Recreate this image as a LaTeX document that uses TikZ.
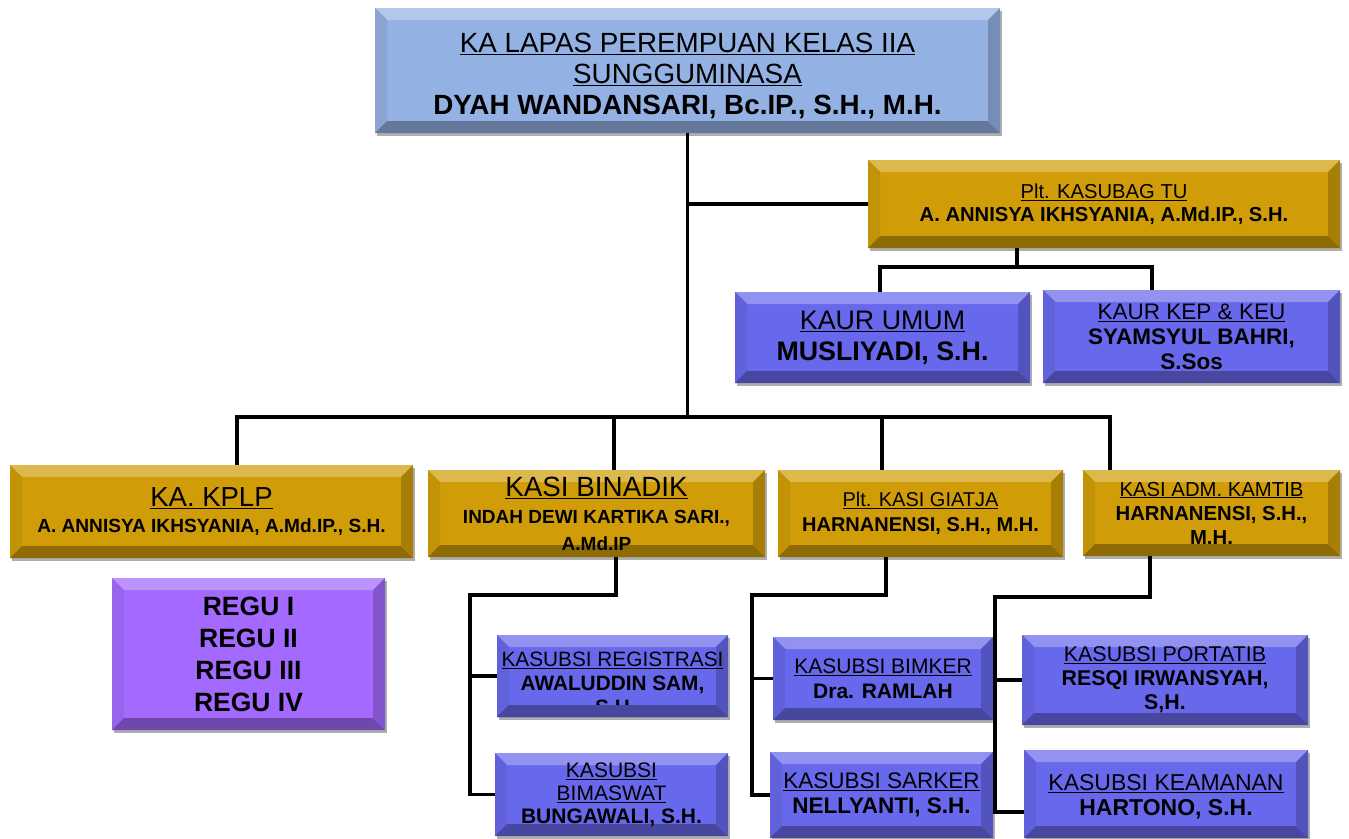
\documentclass[tikz,border=0pt]{standalone}
\usepackage{fontspec}
\setmainfont{Liberation Sans}
\usetikzlibrary{shadows}
\newcommand\fsz[2]{\fontsize{#1}{#2}\selectfont}
\definecolor{blueA}{RGB}{148,177,228}
\definecolor{goldA}{RGB}{208,157,8}
\definecolor{vioA}{RGB}{104,104,236}
\definecolor{purA}{RGB}{164,106,255}
\tikzset{
 box/.style={inner sep=0pt, align=center, fill=#1,
  drop shadow={shadow xshift=2pt,shadow yshift=-3pt,fill=black!70,opacity=.45},
  path picture={
   \fill[#1!72!white] (path picture bounding box.north west) -- (path picture bounding box.north east) -- ([xshift=-12pt,yshift=-12pt]path picture bounding box.north east) -- ([xshift=12pt,yshift=-12pt]path picture bounding box.north west) -- cycle;
   \fill[#1!93!black] (path picture bounding box.north west) -- (path picture bounding box.south west) -- ([xshift=12pt,yshift=12pt]path picture bounding box.south west) -- ([xshift=12pt,yshift=-12pt]path picture bounding box.north west) -- cycle;
   \fill[#1!68!black] (path picture bounding box.south west) -- (path picture bounding box.south east) -- ([xshift=-12pt,yshift=12pt]path picture bounding box.south east) -- ([xshift=12pt,yshift=12pt]path picture bounding box.south west) -- cycle;
   \fill[#1!80!black] (path picture bounding box.north east) -- (path picture bounding box.south east) -- ([xshift=-12pt,yshift=12pt]path picture bounding box.south east) -- ([xshift=-12pt,yshift=-12pt]path picture bounding box.north east) -- cycle;
  }},
 txt/.style={align=center, inner sep=0pt},
 conn/.style={draw=black, line width=3.2pt},
}
\begin{document}
\begin{tikzpicture}[x=1pt,y=-1pt]
\useasboundingbox (0,0) rectangle (1349,838);
\coordinate (bus1) at (237,417);
\coordinate (bus2) at (614,417);
\coordinate (bus3) at (882,417);
\coordinate (bus4) at (1110,417);
\coordinate (ks) at (1017,267);
\coordinate (kl) at (880,267);
\coordinate (kr) at (1152,267);
\coordinate (b1) at (616,595);
\coordinate (b2) at (470,595);
\coordinate (g1) at (886,595);
\coordinate (g2) at (752,595);
\coordinate (a1) at (1150,597);
\coordinate (a2) at (995,597);
\coordinate (a3) at (995,812);

% boxes
\node[box=blueA, minimum width=625pt, minimum height=125pt] (top) at (687.5,70.5) {};
\node[txt, font=\fsz{27.8}{31}] (toptxt) at ([yshift=-5pt]top.center)
 {\underline{KA LAPAS PEREMPUAN KELAS IIA}\\\underline{SUNGGUMINASA}\\\textbf{DYAH WANDANSARI, Bc.IP., S.H., M.H.}};
\node[box=goldA, minimum width=472pt, minimum height=88pt, font=\fsz{20.2}{23}] (kasubag) at (1104,204)
 {\underline{Plt. KASUBAG TU}\\\textbf{A. ANNISYA IKHSYANIA, A.Md.IP., S.H.}};
\node[box=vioA, minimum width=295pt, minimum height=91pt, font=\fsz{26.8}{31}] (umum) at (882.5,337.5)
 {\underline{KAUR UMUM}\\\textbf{MUSLIYADI, S.H.}};
\node[box=vioA, minimum width=297pt, minimum height=93pt, font=\fsz{22.5}{25}] (kep) at (1191.5,336.5)
 {\underline{KAUR KEP \& KEU}\\\textbf{SYAMSYUL BAHRI,}\\\textbf{S.Sos}};
\node[box=goldA, minimum width=403pt, minimum height=93pt, font=\fsz{27.5}{26}] (kplp) at (211.5,511.5)
 {\underline{KA. KPLP}\\{\fsz{19.1}{22}\bfseries A. ANNISYA IKHSYANIA, A.Md.IP., S.H.}};
\node[box=goldA, minimum width=337pt, minimum height=87pt, font=\fsz{27.8}{27}] (binadik) at (596.5,513.5)
 {\underline{KASI BINADIK}\\{\fsz{19}{22}\bfseries INDAH DEWI KARTIKA SARI.,}\\{\fsz{19}{21}\bfseries A.Md.IP}};
\node[box=goldA, minimum width=285pt, minimum height=87pt, font=\fsz{20}{25}] (giatja) at (920.5,513.5)
 {\underline{Plt. KASI GIATJA}\\\textbf{HARNANENSI, S.H., M.H.}};
\node[box=goldA, minimum width=257pt, minimum height=86pt, font=\fsz{20.3}{24}] (adm) at (1211.5,513)
 {\underline{KASI ADM. KAMTIB}\\\textbf{HARNANENSI, S.H.,}\\\textbf{M.H.}};
\node[box=purA, minimum width=273pt, minimum height=152pt, font=\fsz{26.5}{32}\bfseries] (regu) at (248.5,654)
 {REGU I\\REGU II\\REGU III\\REGU IV};
\node[box=vioA, minimum width=231pt, minimum height=82pt] (regis) at (612.5,676) {};
\node[txt, font=\fsz{20.8}{24}] (registxt) at ([yshift=-7pt]regis.center)
 {\underline{KASUBSI REGISTRASI}\\\textbf{AWALUDDIN SAM,}\\\textbf{S.H}};
\node[box=vioA, minimum width=233pt, minimum height=83pt, font=\fsz{21}{23}] (bimaswat) at (611.5,794.5)
 {\underline{KASUBSI}\\\underline{BIMASWAT}\\\textbf{BUNGAWALI, S.H.}};
\node[box=vioA, minimum width=220pt, minimum height=83pt, font=\fsz{21}{25}] (bimker) at (883,678.5)
 {\underline{KASUBSI BIMKER}\\\textbf{Dra. RAMLAH}};
\node[box=vioA, minimum width=223pt, minimum height=86pt, font=\fsz{22.5}{25}] (sarker) at (881.5,795)
 {\underline{KASUBSI SARKER}\\\textbf{NELLYANTI, S.H.}};
\node[box=vioA, minimum width=286pt, minimum height=90pt, font=\fsz{21.4}{24}] (portatib) at (1165,680)
 {\underline{KASUBSI PORTATIB}\\\textbf{RESQI IRWANSYAH,}\\\textbf{S,H.}};
\node[box=vioA, minimum width=284pt, minimum height=88pt] (keamanan) at (1166,794) {};
\node[txt, font=\fsz{23}{25}] (keamanantxt) at ([yshift=-3pt]keamanan.center)
 {\underline{KASUBSI KEAMANAN}\\\textbf{HARTONO, S.H.}};

% bevel over overflowing text
\fill[vioA!68!black] (regis.south west) -- (regis.south east) -- ([xshift=-12pt,yshift=12pt]regis.south east) -- ([xshift=12pt,yshift=12pt]regis.south west) -- cycle;

% connectors
\draw[conn] (top.south) -- (top.south |- bus1);
\draw[conn] (top.south |- kasubag.west) -- (kasubag.west);
\draw[conn] (ks |- kasubag.south) -- (ks);
\draw[conn] (kl |- umum.north) -- (kl) -- (kr) -- (kr |- kep.north);
\draw[conn] (bus1 |- kplp.north) -- (bus1) -- (bus4) -- (bus4 |- adm.north);
\draw[conn] (bus2) -- (bus2 |- binadik.north);
\draw[conn] (bus3) -- (bus3 |- giatja.north);
\draw[conn] (b1 |- binadik.south) -- (b1) -- (b2) -- (b2 |- bimaswat.west) -- (bimaswat.west);
\draw[conn] (b2 |- regis.west) -- (regis.west);
\draw[conn] (g1 |- giatja.south) -- (g1) -- (g2) -- (g2 |- sarker.west) -- (sarker.west);
\draw[conn] (g2 |- bimker.west) -- (bimker.west);
\draw[conn] (a1 |- adm.south) -- (a1) -- (a2) -- (a3) -- (a3 -| keamanan.west);
\draw[conn] (a2 |- portatib.west) -- (portatib.west);
\end{tikzpicture}
\end{document}
